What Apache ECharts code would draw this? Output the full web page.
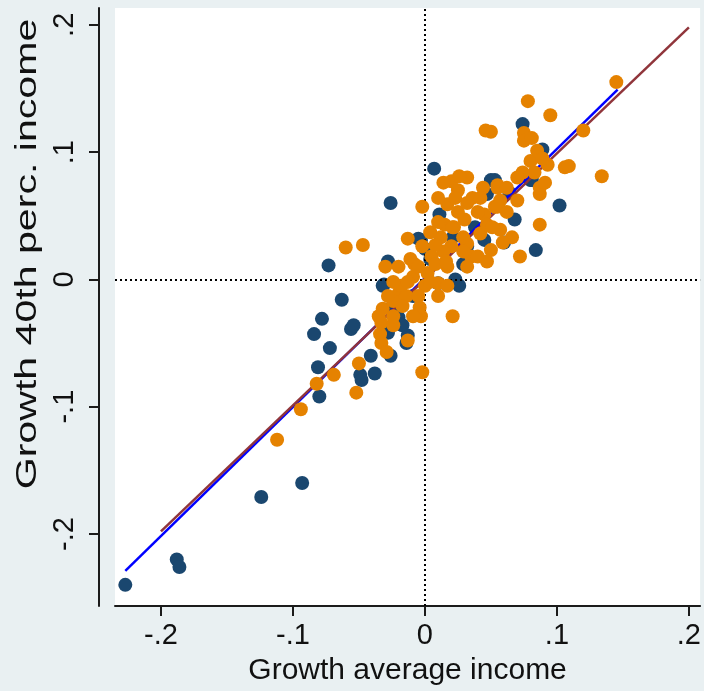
<!DOCTYPE html>
<html>
<head>
<meta charset="utf-8">
<script src="https://cdn.jsdelivr.net/npm/echarts@6/dist/echarts.min.js"></script>
<style>
  html, body { margin: 0; padding: 0; background: #e9f0f2; }
  #chart { width: 704px; height: 691px; }
</style>
</head>
<body>
<div id="chart"></div>
<script>
// ticks + labels (Stata style, no leading zero)
const xTicks = [-0.2, -0.1, 0, 0.1, 0.2];
const xTickLabels = ['-.2', '-.1', '0', '.1', '.2'];
const yTicks = [-0.2, -0.1, 0, 0.1, 0.2];
const yTickLabels = ['-.2', '-.1', '0', '.1', '.2'];

const xTitle = 'Growth average income';
const yTitle = 'Growth 40th perc. income';

// navy group: [growth average, growth 40th perc]
const navyPoints = [
  [-0.227, -0.240], [-0.188, -0.220], [-0.186, -0.226], [-0.124, -0.171], [-0.093, -0.160],
  [-0.080, -0.092], [-0.081, -0.069], [-0.072, -0.054], [-0.084, -0.043], [-0.078, -0.031],
  [-0.063, -0.016], [-0.056, -0.039], [-0.054, -0.036], [-0.073, 0.011], [-0.026, 0.060],
  [-0.032, -0.005], [-0.020, -0.030], [-0.041, -0.060], [-0.038, -0.074], [-0.049, -0.075],
  [-0.048, -0.079], [-0.028, -0.042], [-0.026, -0.060], [-0.013, -0.044], [-0.014, -0.050],
  [-0.026, -0.023], [-0.023, -0.023], [-0.031, -0.004], [-0.028, 0.014], [-0.003, 0.031],
  [0.000, 0.024], [0.007, 0.087], [-0.005, 0.032], [0.047, 0.067], [0.045, 0.031],
  [0.060, 0.029], [0.080, 0.078], [0.102, 0.058], [0.084, 0.023], [0.011, 0.051],
  [0.023, 0.000], [0.089, 0.102], [0.053, 0.078], [0.068, 0.047], [0.074, 0.122],
  [0.081, 0.078], [0.050, 0.078], [0.010, -0.003], [0.032, 0.026], [-0.009, -0.013],
  [-0.017, -0.036], [0.021, 0.033], [0.038, 0.041], [0.004, 0.016], [0.029, 0.012],
  [0.026, -0.005], [0.064, 0.068]
];

// orange group
const orangePoints = [
  [-0.112, -0.126], [-0.094, -0.102], [-0.082, -0.082], [-0.069, -0.075], [-0.052, -0.089],
  [-0.050, -0.066], [-0.033, -0.034], [-0.032, -0.023], [-0.033, -0.050], [-0.029, -0.057],
  [-0.013, -0.048], [-0.002, -0.073], [-0.003, -0.029], [-0.004, -0.022], [-0.020, -0.011],
  [-0.018, -0.005], [0.000, -0.005], [0.010, -0.003], [-0.060, 0.025], [-0.047, 0.027],
  [-0.013, 0.032], [-0.002, 0.057], [-0.030, 0.010], [-0.008, 0.012], [0.020, 0.077],
  [0.032, 0.080], [0.055, 0.074], [0.057, 0.062], [0.070, 0.062], [0.025, 0.070],
  [0.017, 0.059], [0.015, 0.043], [0.030, 0.047], [0.045, 0.051], [0.032, 0.028],
  [0.050, 0.023], [0.035, 0.018], [0.020, 0.026], [0.005, 0.018], [0.002, 0.005],
  [0.072, 0.018], [0.087, 0.043], [0.087, 0.067], [0.080, 0.093], [0.093, 0.090],
  [0.085, 0.101], [0.106, 0.088], [0.057, 0.039], [0.042, 0.036], [0.012, 0.033],
  [0.078, 0.140], [0.095, 0.129], [0.050, 0.116], [0.075, 0.115], [0.075, 0.109],
  [0.089, 0.095], [0.083, 0.084], [0.120, 0.117], [0.109, 0.089], [0.134, 0.081],
  [0.145, 0.155], [0.087, 0.072], [0.055, 0.072], [0.021, -0.029], [0.046, 0.117],
  [0.010, -0.013], [-0.009, 0.002], [-0.014, -0.013], [-0.024, -0.017], [-0.011, 0.016],
  [0.017, 0.010], [0.025, 0.053], [0.036, 0.064], [0.044, 0.072], [0.062, 0.053],
  [0.066, 0.033], [0.014, 0.022], [0.008, 0.012], [-0.005, -0.013], [0.004, 0.037],
  [-0.020, 0.010], [-0.024, -0.002], [0.022, 0.041], [0.047, 0.043], [0.053, 0.057],
  [0.029, 0.033], [-0.002, 0.026], [0.091, 0.076], [0.040, 0.018], [-0.034, -0.043],
  [-0.024, -0.036], [0.014, 0.076], [0.023, 0.064], [0.032, 0.060], [0.040, 0.053],
  [0.051, 0.041], [0.059, 0.029], [0.021, 0.041], [0.029, 0.022], [0.016, 0.014],
  [0.008, 0.027], [0.010, 0.045], [0.032, 0.010], [0.047, 0.014], [0.042, 0.064],
  [0.062, 0.072], [-0.005, 0.010], [-0.013, -0.002], [-0.017, -0.021], [-0.024, -0.029],
  [-0.009, -0.029], [0.004, -0.002], [0.017, -0.005], [0.074, 0.084], [0.081, 0.111],
  [0.070, 0.080], [0.055, 0.057], [0.026, 0.081], [0.010, 0.064], [-0.028, -0.013],
  [-0.035, -0.029]
];

// fitted lines, end points
const blueFit = [[-0.227, -0.229], [0.146, 0.149]];
const maroonFit = [[-0.200, -0.198], [0.200, 0.198]];

function tickLabel(ticks, labels) {
  return v => {
    const i = ticks.findIndex(t => Math.abs(t - v) < 1e-9);
    return i < 0 ? '' : labels[i];
  };
}

const axisCol = '#1b1b1b';
const font = 'Liberation Sans';

let option = {
  backgroundColor: '#e9f0f2',
  animation: false,
  grid: {
    left: 115, right: 0, top: 8, bottom: 77,
    show: true, backgroundColor: '#ffffff', borderWidth: 0
  },
  xAxis: {
    type: 'value',
    min: -0.2348, max: 0.2085,
    splitLine: { show: false },
    axisLine: { onZero: false, lineStyle: { color: axisCol, width: 2 } },
    axisTick: { customValues: xTicks, length: 10, lineStyle: { color: axisCol, width: 2 } },
    axisLabel: {
      customValues: xTicks, formatter: tickLabel(xTicks, xTickLabels),
      margin: 15, fontSize: 29, fontFamily: font, color: '#111'
    },
    name: xTitle, nameLocation: 'middle', nameGap: 50,
    nameTextStyle: { fontSize: 30, fontFamily: font, color: '#111' }
  },
  yAxis: {
    type: 'value',
    min: -0.2566, max: 0.2132,
    offset: 16,
    splitLine: { show: false },
    axisLine: { onZero: false, lineStyle: { color: axisCol, width: 2 } },
    axisTick: { customValues: yTicks, length: 10, lineStyle: { color: axisCol, width: 2 } },
    axisLabel: {
      customValues: yTicks, formatter: tickLabel(yTicks, yTickLabels),
      rotate: 90, margin: 20, fontSize: 29, fontFamily: font, color: '#111'
    }
  },
  graphic: [{
    type: 'text',
    x: 28, y: 254,
    rotation: Math.PI / 2,
    scaleX: 1.37,
    style: {
      text: yTitle, fontSize: 30, fontFamily: font, fill: '#111',
      align: 'center', verticalAlign: 'middle'
    }
  }],
  series: [
    {
      name: 'navy', type: 'scatter', data: navyPoints,
      symbol: 'circle', symbolSize: 14,
      itemStyle: { color: '#1a476f', opacity: 1 },
      z: 2,
      markLine: {
        silent: true, symbol: 'none', label: { show: false },
        lineStyle: { color: '#000', width: 2, type: [2, 3] },
        data: [{ xAxis: 0 }, { yAxis: 0 }]
      }
    },
    {
      name: 'fit blue', type: 'line', data: blueFit,
      symbol: 'none', lineStyle: { color: '#0000ff', width: 2.5 }, z: 3
    },
    {
      name: 'fit maroon', type: 'line', data: maroonFit,
      symbol: 'none', lineStyle: { color: '#90353b', width: 2.5 }, z: 4
    },
    {
      name: 'orange', type: 'scatter', data: orangePoints,
      symbol: 'circle', symbolSize: 14,
      itemStyle: { color: '#e58200', opacity: 1 },
      z: 5
    }
  ]
};

let myChart = echarts.init(document.getElementById('chart'));
myChart.setOption(option);
</script>
</body>
</html>
